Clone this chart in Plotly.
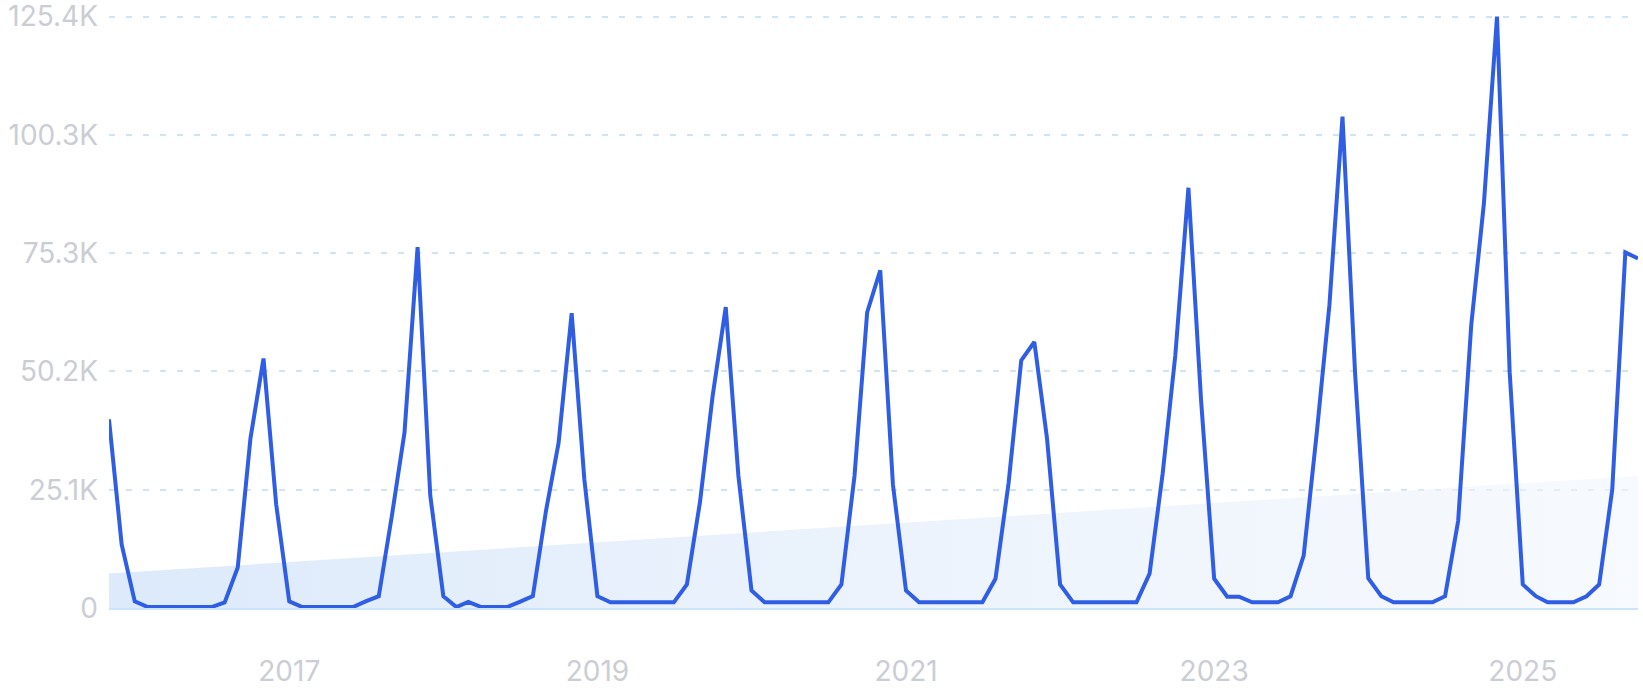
import pandas as pd
import plotly.graph_objects as go


# ---------------------------------------------------------------------------
# Dati: volumi mensili, nov 2015 -> ott 2025 (in migliaia)
# ---------------------------------------------------------------------------

start_month = "2015-11-01"

volume_k = [
    40.0, 13.5, 1.4, 0.2, 0.2, 0.2, 0.2, 0.2, 0.2, 1.2, 8.6, 35.9,
    52.9, 22.0, 1.4, 0.2, 0.2, 0.2, 0.2, 0.2, 1.4, 2.5, 19.5, 37.2,
    76.5, 23.9, 2.5, 0.2, 1.3, 0.2, 0.2, 0.2, 1.3, 2.5, 20.5, 35.0,
    62.5, 27.3, 2.5, 1.2, 1.2, 1.2, 1.2, 1.2, 1.2, 5.0, 22.5, 45.0,
    63.8, 28.0, 3.7, 1.2, 1.2, 1.2, 1.2, 1.2, 1.2, 5.0, 28.0, 62.7,
    71.6, 26.2, 3.7, 1.2, 1.2, 1.2, 1.2, 1.2, 1.2, 6.2, 26.5, 52.5,
    56.4, 36.0, 5.0, 1.2, 1.2, 1.2, 1.2, 1.2, 1.2, 7.3, 28.5, 53.6,
    89.1, 44.0, 6.2, 2.4, 2.4, 1.2, 1.2, 1.2, 2.5, 11.1, 37.1, 64.2,
    104.2, 49.5, 6.3, 2.5, 1.2, 1.2, 1.2, 1.2, 2.5, 18.5, 60.0, 85.8,
    125.4, 50.0, 5.0, 2.5, 1.2, 1.2, 1.2, 2.5, 5.0, 25.1, 75.4, 74.1,
]

# retta di tendenza: valore al primo e all'ultimo mese
trend_k = [7.3, 28.0]

y_tick_values = [0, 25080, 50160, 75240, 100320, 125400]
y_tick_labels = ["0", "25.1K", "50.2K", "75.3K", "100.3K", "125.4K"]
x_tick_labels = ["2017", "2019", "2021", "2023", "2025"]

# ---------------------------------------------------------------------------

months = pd.date_range(start_month, periods=len(volume_k), freq="MS")
volume = [v * 1000 for v in volume_k]
trend = [v * 1000 for v in trend_k]
x_tick_dates = [pd.Timestamp(f"{y}-01-01") for y in x_tick_labels]

LINE_BLUE = "#2f5ee5"
TICK_GREY = "#cbcdd5"
GRID_BLUE = "#cfe4f5"

fig = go.Figure()

# area di tendenza con sfumatura orizzontale
fig.add_trace(go.Scatter(
    x=[months[0], months[-1]],
    y=trend,
    mode="lines",
    line=dict(width=0),
    fill="tozeroy",
    fillgradient=dict(
        type="horizontal",
        colorscale=[[0, "rgba(214,230,250,0.85)"], [1, "rgba(240,245,252,0.55)"]],
    ),
    hoverinfo="skip",
    showlegend=False,
))

fig.add_trace(go.Scatter(
    x=months,
    y=volume,
    mode="lines",
    line=dict(color=LINE_BLUE, width=4),
    showlegend=False,
))

tick_font = dict(family="Inter, Roboto, sans-serif", size=28, color=TICK_GREY)

fig.update_layout(
    width=1643,
    height=700,
    margin=dict(l=109, r=5, t=9, b=92),
    paper_bgcolor="white",
    plot_bgcolor="white",
)

fig.update_xaxes(
    type="date",
    range=[months[0], months[-1]],
    tickvals=x_tick_dates,
    ticktext=x_tick_labels,
    tickfont=tick_font,
    ticklabelstandoff=38,
    automargin=False,
    showgrid=False,
    zeroline=False,
    showline=True,
    linecolor="#cde4fa",
    linewidth=1.5,
    ticks="",
)

# un po' di spazio sopra il massimo, così la griglia in cima resta visibile
fig.update_yaxes(
    range=[0, 127000],
    tickvals=y_tick_values,
    ticktext=y_tick_labels,
    tickfont=tick_font,
    ticklabelstandoff=10,
    ticklabeloverflow="allow",
    automargin=False,
    showgrid=True,
    gridcolor=GRID_BLUE,
    griddash="6px,11px",
    gridwidth=1.5,
    zeroline=False,
    showline=False,
    ticks="",
)

# niente margine di default sul body della pagina
fig.write_html(
    "out.html",
    config={"displayModeBar": False},
    post_script="document.body.style.margin = '0';",
)
